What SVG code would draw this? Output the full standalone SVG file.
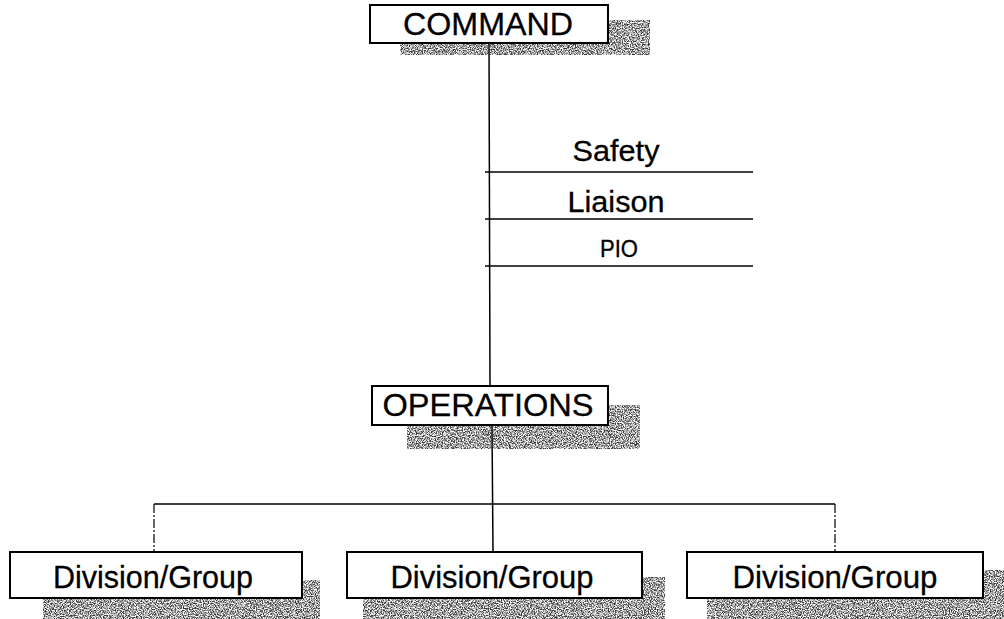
<svg xmlns="http://www.w3.org/2000/svg" width="1004" height="619" viewBox="0 0 1004 619">
  <defs>
    <filter id="speckle" x="0" y="0" width="100%" height="100%" color-interpolation-filters="sRGB">
      <feTurbulence type="fractalNoise" baseFrequency="0.85" numOctaves="2" seed="7" result="n"/>
      <feColorMatrix in="n" type="matrix" values="0 0 0 0 0.2  0 0 0 0 0.2  0 0 0 0 0.2  3.2 0 0 0 -1.15" result="a"/>
      <feComposite in="a" in2="SourceGraphic" operator="in"/>
    </filter>
  </defs>
  <style>
    .box { fill: #ffffff; stroke: #000000; stroke-width: 2; }
    .shadow { fill: #000000; filter: url(#speckle); }
    .lbl { font-family: "Liberation Sans", Arial, sans-serif; font-size: 32px; fill: #000000; stroke: #000000; stroke-width: 0.3; text-anchor: middle; }
    .line { stroke: #000000; stroke-width: 1.5; fill: none; }
    .drop { stroke: #000000; stroke-width: 1.2; fill: none; stroke-dasharray: 9 2 2 2; }
  </style>
  <rect width="1004" height="619" fill="#ffffff"/>

  <g id="connectors">
    <line class="line" x1="489" y1="43" x2="490" y2="386"/>
    <line class="line" x1="485" y1="172" x2="753" y2="172"/>
    <line class="line" x1="485" y1="219" x2="753" y2="219"/>
    <line class="line" x1="485" y1="266" x2="753" y2="266"/>
    <line class="line" x1="492" y1="425" x2="493" y2="552"/>
    <line class="line" x1="154" y1="504" x2="835" y2="504"/>
    <line class="drop" x1="154" y1="504" x2="154" y2="552"/>
    <line class="drop" x1="835" y1="504" x2="835" y2="552"/>
  </g>

  <g id="staff-labels">
    <text class="lbl" x="616" y="161" style="font-size:30px" textLength="87" lengthAdjust="spacingAndGlyphs">Safety</text>
    <text class="lbl" x="616" y="212" style="font-size:30px" textLength="97" lengthAdjust="spacingAndGlyphs">Liaison</text>
    <text class="lbl" x="619" y="257" style="font-size:23px" textLength="38" lengthAdjust="spacingAndGlyphs">PIO</text>
  </g>

  <g id="command">
    <rect class="shadow" x="400" y="20" width="250" height="35"/>
    <rect class="box" x="370" y="5" width="238" height="38"/>
    <text class="lbl" x="488" y="35" textLength="170" lengthAdjust="spacingAndGlyphs">COMMAND</text>
  </g>

  <g id="operations">
    <rect class="shadow" x="407" y="405" width="233" height="44"/>
    <rect class="box" x="372" y="386" width="236" height="39"/>
    <text class="lbl" x="488" y="416" textLength="211" lengthAdjust="spacingAndGlyphs">OPERATIONS</text>
  </g>

  <g id="division-left">
    <rect class="shadow" x="43" y="580" width="277" height="39"/>
    <rect class="box" x="10" y="552" width="292" height="46"/>
    <text class="lbl" x="153" y="588" textLength="200" lengthAdjust="spacingAndGlyphs">Division/Group</text>
  </g>

  <g id="division-middle">
    <rect class="shadow" x="363" y="577" width="302" height="42"/>
    <rect class="box" x="347" y="552" width="295" height="46"/>
    <text class="lbl" x="492" y="588" textLength="203" lengthAdjust="spacingAndGlyphs">Division/Group</text>
  </g>

  <g id="division-right">
    <rect class="shadow" x="707" y="570" width="297" height="49"/>
    <rect class="box" x="687" y="552" width="296" height="46"/>
    <text class="lbl" x="835" y="588" textLength="205" lengthAdjust="spacingAndGlyphs">Division/Group</text>
  </g>
</svg>
